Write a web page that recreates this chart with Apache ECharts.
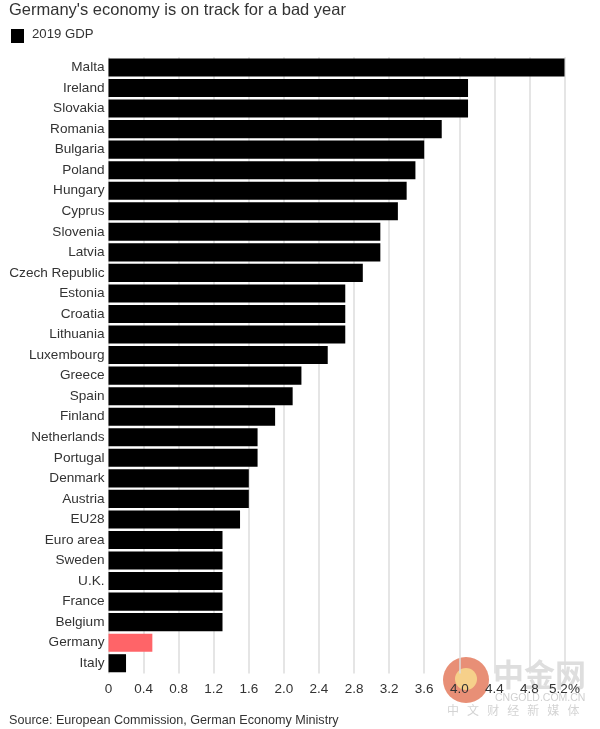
<!DOCTYPE html>
<html><head><meta charset="utf-8">
<style>html,body{margin:0;padding:0;background:#fff}#c{width:600px;height:729px}</style>
<script src="https://cdn.jsdelivr.net/npm/echarts@6/dist/echarts.min.js"></script>
</head><body><div id="c"></div>
<script>
const categories = ["Malta","Ireland","Slovakia","Romania","Bulgaria","Poland","Hungary","Cyprus","Slovenia","Latvia","Czech Republic","Estonia","Croatia","Lithuania","Luxembourg","Greece","Spain","Finland","Netherlands","Portugal","Denmark","Austria","EU28","Euro area","Sweden","U.K.","France","Belgium","Germany","Italy"];
const gdp2019 = [5.2,4.1,4.1,3.8,3.6,3.5,3.4,3.3,3.1,3.1,2.9,2.7,2.7,2.7,2.5,2.2,2.1,1.9,1.7,1.7,1.6,1.6,1.5,1.3,1.3,1.3,1.3,1.3,0.5,0.2];
const highlighted = "Germany";
const titleText = "Germany's economy is on track for a bad year";
const seriesName = "2019 GDP";
const sourceText = "Source: European Commission, German Economy Ministry";
const font = "Liberation Sans, Arial, sans-serif";
const chart = echarts.init(document.getElementById('c'), null, {renderer:'canvas'});
chart.setOption({
  animation:false,
  backgroundColor:'#fff',
  grid:{left:108.5,top:57.2,width:456,height:616.3,containLabel:false},
  xAxis:{type:'value',min:0,max:5.2,interval:0.4,position:'bottom',
    axisLine:{show:false},axisTick:{show:false},
    splitLine:{show:true,lineStyle:{color:'#dddddd',width:1.5}},
    axisLabel:{fontFamily:font,fontSize:13.5,color:'#333',margin:9,
      formatter:v=>{const r=Math.round(v*10)/10; return r===0?'0':r===5.2?'5.2%':r.toFixed(1);}}},
  yAxis:{type:'category',inverse:true,data:categories,
    axisLine:{show:false},axisTick:{show:false},
    axisLabel:{fontFamily:font,fontSize:13.6,color:'#333',margin:4}},
  series:[{type:'bar',name:seriesName,barCategoryGap:'12%',
    data:gdp2019.map((v,i)=>({value:v,itemStyle:{color:categories[i]===highlighted?'#ff6468':'#000'}}))}],
  graphic:[
    {type:'text',left:9,top:2,style:{text:titleText,font:'16.5px '+font,fill:'#333'}},
    {type:'rect',left:11,top:29,shape:{width:13,height:14},style:{fill:'#000'}},
    {type:'text',left:32,top:28,style:{text:seriesName,font:'13.2px '+font,fill:'#333'}},
    {type:'text',left:9,top:714,style:{text:sourceText,font:'12.6px '+font,fill:'#333'}},
    {type:'circle',z:-1,left:443,top:657,shape:{r:23},style:{fill:'#e88f76'}},
    {type:'circle',z:-1,left:455,top:668,shape:{r:11},style:{fill:'#f6d08a'}},
    {type:'text',z:-1,left:493,top:659,style:{text:'中金网',font:'bold 31px "Noto Sans CJK SC"',fill:'#dedede'}},
    {type:'text',z:-1,left:495,top:693,style:{text:'CNGOLD.COM.CN',font:'10.5px '+font,fill:'#d0d0d0'}},
    {type:'text',z:-1,left:447,top:704,style:{text:'中   文   财   经   新   媒   体',font:'12px "Noto Sans CJK SC"',fill:'#d4d4d4'}}
  ]
});
</script></body></html>
